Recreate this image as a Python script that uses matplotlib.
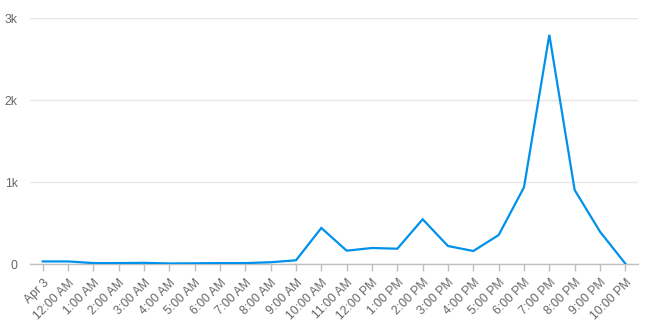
import matplotlib
matplotlib.use("Agg")
import matplotlib.pyplot as plt
from matplotlib.ticker import FuncFormatter

labels = ["Apr 3", "12:00 AM", "1:00 AM", "2:00 AM", "3:00 AM", "4:00 AM", "5:00 AM",
          "6:00 AM", "7:00 AM", "8:00 AM", "9:00 AM", "10:00 AM", "11:00 AM",
          "12:00 PM", "1:00 PM", "2:00 PM", "3:00 PM", "4:00 PM", "5:00 PM",
          "6:00 PM", "7:00 PM", "8:00 PM", "9:00 PM", "10:00 PM"]
values = [35, 35, 15, 15, 18, 10, 12, 15, 15, 25, 49, 443, 166, 199, 190, 549,
          223, 162, 357, 939, 2798, 906, 398, 8]
y_ticks = [0, 1000, 2000, 3000]
y_tick_labels = ["0", "1k", "2k", "3k"]

plt.rcParams['font.family'] = ['Liberation Sans', 'DejaVu Sans']

fig = plt.figure(figsize=(6.47, 3.30), dpi=100)
ax = fig.add_axes([30/647, 65.7/330, 608/647, 246/330])

x = list(range(len(values)))
ax.plot(x, values, color='#0091ea', lw=1.6, solid_joinstyle='miter', zorder=3)

ax.set_xlim(-0.5, len(values) - 0.5)
ax.set_ylim(0, 3000)
ax.set_yticks(y_ticks)
ax.set_yticklabels(y_tick_labels)
ax.set_xticks(x)
ax.set_xticklabels(labels, rotation=45, ha='right', va='top', rotation_mode='anchor')

for s in ['top', 'right', 'left']:
    ax.spines[s].set_visible(False)
ax.spines['bottom'].set_color('#c0c0c0')
ax.spines['bottom'].set_linewidth(1)

ax.grid(axis='y', color='#e6e6e6', lw=1)
ax.set_axisbelow(True)
ax.tick_params(axis='y', length=0, pad=9, labelsize=8.7, labelcolor='#666666')
ax.tick_params(axis='x', length=5, width=1, color='#c0c0c0', pad=4, labelsize=8.7, labelcolor='#666666')

fig.savefig('out.png', dpi=100, facecolor='white')
